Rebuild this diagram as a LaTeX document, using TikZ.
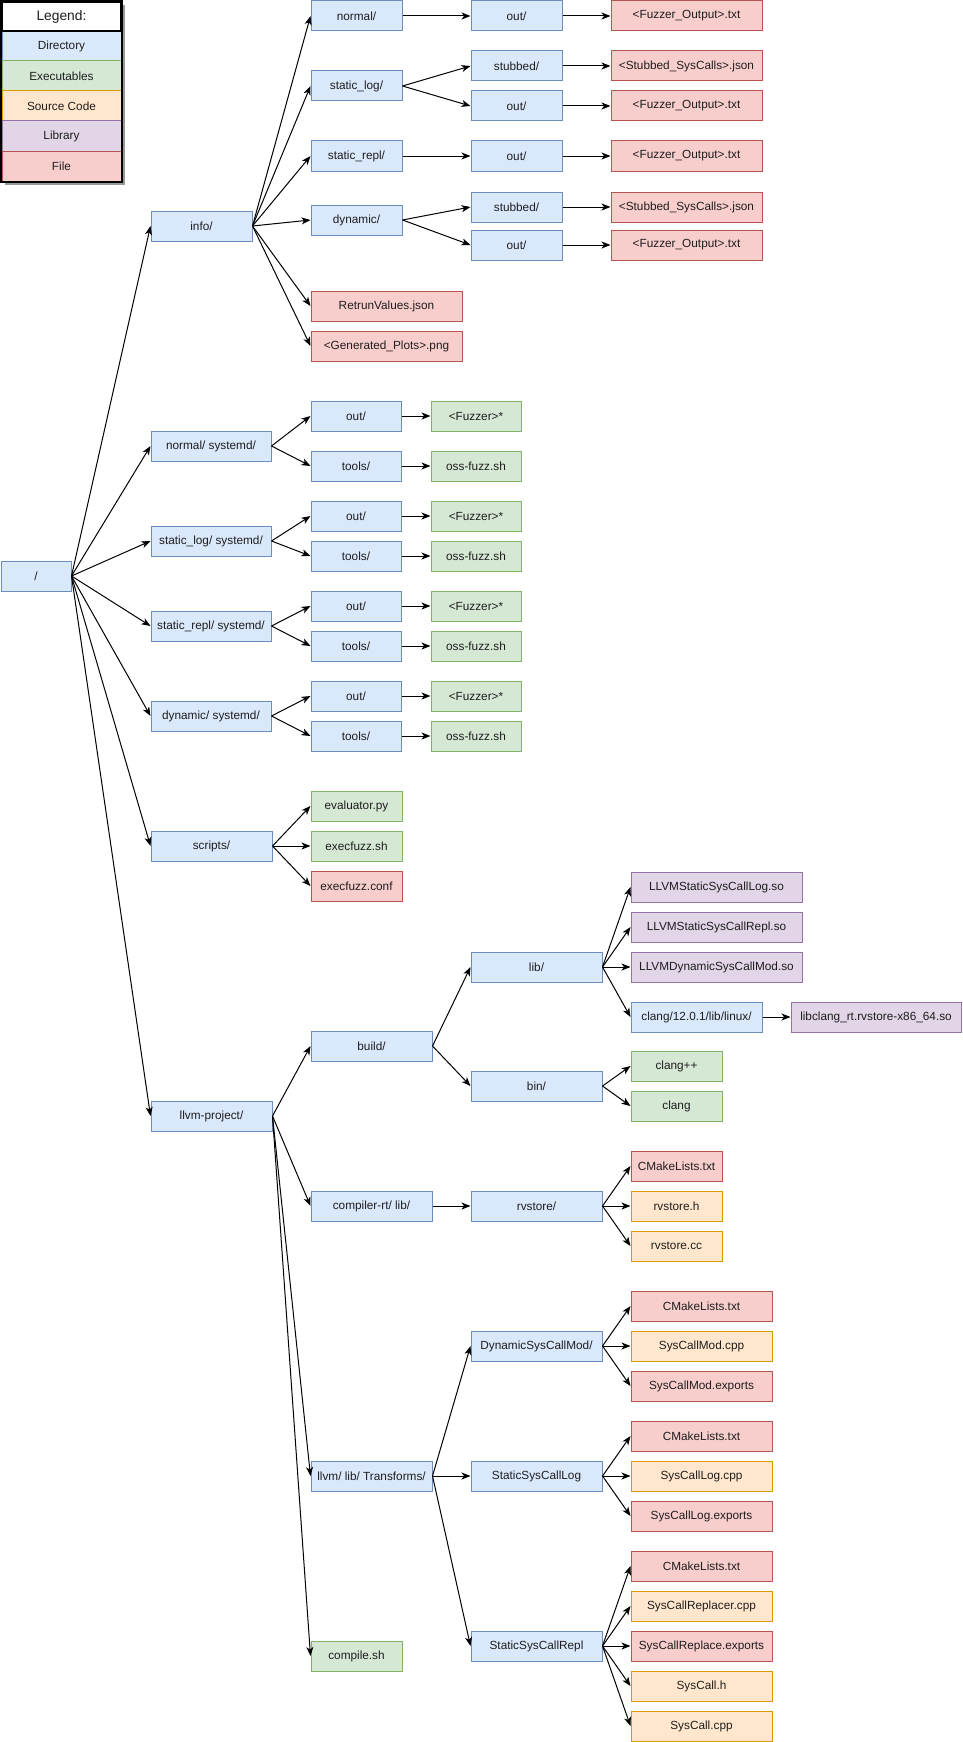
\documentclass[tikz,border=0pt]{standalone}
\usepackage{fontspec}
\setmainfont{Liberation Sans}
\usetikzlibrary{arrows.meta}
\definecolor{dirF}{HTML}{DAE8FC}\definecolor{dirD}{HTML}{6C8EBF}
\definecolor{exeF}{HTML}{D5E8D4}\definecolor{exeD}{HTML}{82B366}
\definecolor{srcF}{HTML}{FFE6CC}\definecolor{srcD}{HTML}{D79B00}
\definecolor{libF}{HTML}{E1D5E7}\definecolor{libD}{HTML}{9673A6}
\definecolor{filF}{HTML}{F8CECC}\definecolor{filD}{HTML}{B85450}
\definecolor{txt}{HTML}{1E1E1E}
\newcommand\mybox[7]{\node[#2, minimum width={(#5-#3)*1pt}, minimum height={(#6-#4)*1pt}] (#1) at ({(#3+#5)/2},{(#4+#6)/2}) {#7};}
\tikzset{
  base/.style={draw, line width=1pt, inner sep=0pt, text=txt, font=\fontsize{11.8}{14}\selectfont},
  dirbox/.style={base, fill=dirF, draw=dirD},
  exebox/.style={base, fill=exeF, draw=exeD},
  srcbox/.style={base, fill=srcF, draw=srcD},
  libbox/.style={base, fill=libF, draw=libD},
  filbox/.style={base, fill=filF, draw=filD},
  titlebox/.style={base, fill=white, draw=black, line width=2pt, font=\fontsize{13.8}{16}\selectfont},
  arr/.style={-{Stealth[length=9pt,width=7pt,inset=2.5pt]}, line width=1pt, draw=black},
}
\begin{document}
\begin{tikzpicture}[x=1pt,y=-1pt]
\useasboundingbox (0,0) rectangle (962,1742);
% legend
\fill[black!40] (5,5) rectangle (124.5,184.5);
\mybox{lgd}{dirbox}{2}{31}{121}{61}{Directory}
\mybox{lge}{exebox}{2}{61}{121}{91}{Executables}
\mybox{lgs}{srcbox}{2}{91}{121}{121}{Source Code}
\mybox{lgl}{libbox}{2}{121}{121}{151}{Library}
\mybox{lgf}{filbox}{2}{151}{121}{181}{File}
\mybox{lg}{titlebox}{2}{2}{121}{31}{Legend:}
\draw[line width=2pt] (lg.north west) rectangle (lgf.south east);
% root
\mybox{root}{dirbox}{1}{561}{71}{591}{/}
% info
\mybox{info}{dirbox}{151}{211}{252}{241}{info/}
\mybox{inorm}{dirbox}{311}{1}{402}{31}{normal/}
\mybox{inlog}{dirbox}{311}{71}{402}{101}{static\_log/}
\mybox{inrepl}{dirbox}{311}{141}{402}{171}{static\_repl/}
\mybox{indyn}{dirbox}{311}{205}{402}{235}{dynamic/}
\mybox{iret}{filbox}{311}{291}{462}{321}{RetrunValues.json}
\mybox{iplot}{filbox}{311}{331}{462}{361}{<Generated\_Plots>.png}
\mybox{inormout}{dirbox}{471}{1}{562}{31}{out/}
\mybox{inormoutf}{filbox}{611}{1}{762}{31}{<Fuzzer\_Output>.txt}
\mybox{inlogstub}{dirbox}{471}{51}{562}{81}{stubbed/}
\mybox{inlogstubf}{filbox}{611}{51}{762}{81}{<Stubbed\_SysCalls>.json}
\mybox{inlogout}{dirbox}{471}{91}{562}{121}{out/}
\mybox{inlogoutf}{filbox}{611}{91}{762}{121}{<Fuzzer\_Output>.txt}
\mybox{inreplout}{dirbox}{471}{141}{562}{171}{out/}
\mybox{inreploutf}{filbox}{611}{141}{762}{171}{<Fuzzer\_Output>.txt}
\mybox{indynstub}{dirbox}{471}{192}{562}{222}{stubbed/}
\mybox{indynstubf}{filbox}{611}{192}{762}{222}{<Stubbed\_SysCalls>.json}
\mybox{indynout}{dirbox}{471}{230}{562}{260}{out/}
\mybox{indynoutf}{filbox}{611}{230}{762}{260}{<Fuzzer\_Output>.txt}
% systemd groups
\mybox{sda}{dirbox}{151}{431}{271}{461}{normal/ systemd/}
\mybox{sdao}{dirbox}{311}{401}{401}{431}{out/}
\mybox{sdat}{dirbox}{311}{451}{401}{481}{tools/}
\mybox{sdaof}{exebox}{431}{401}{521}{431}{<Fuzzer>*}
\mybox{sdatf}{exebox}{431}{451}{521}{481}{oss-fuzz.sh}
\mybox{sdb}{dirbox}{151}{526}{271}{556}{static\_log/ systemd/}
\mybox{sdbo}{dirbox}{311}{501}{401}{531}{out/}
\mybox{sdbt}{dirbox}{311}{541}{401}{571}{tools/}
\mybox{sdbof}{exebox}{431}{501}{521}{531}{<Fuzzer>*}
\mybox{sdbtf}{exebox}{431}{541}{521}{571}{oss-fuzz.sh}
\mybox{sdc}{dirbox}{151}{611}{271}{641}{static\_repl/ systemd/}
\mybox{sdco}{dirbox}{311}{591}{401}{621}{out/}
\mybox{sdct}{dirbox}{311}{631}{401}{661}{tools/}
\mybox{sdcof}{exebox}{431}{591}{521}{621}{<Fuzzer>*}
\mybox{sdctf}{exebox}{431}{631}{521}{661}{oss-fuzz.sh}
\mybox{sdd}{dirbox}{151}{701}{271}{731}{dynamic/ systemd/}
\mybox{sddo}{dirbox}{311}{681}{401}{711}{out/}
\mybox{sddt}{dirbox}{311}{721}{401}{751}{tools/}
\mybox{sddof}{exebox}{431}{681}{521}{711}{<Fuzzer>*}
\mybox{sddtf}{exebox}{431}{721}{521}{751}{oss-fuzz.sh}
% scripts
\mybox{scripts}{dirbox}{151}{831}{272}{861}{scripts/}
\mybox{evalpy}{exebox}{311}{791}{402}{821}{evaluator.py}
\mybox{efsh}{exebox}{311}{831}{402}{861}{execfuzz.sh}
\mybox{efconf}{filbox}{311}{871}{402}{901}{execfuzz.conf}
% llvm
\mybox{llvm}{dirbox}{151}{1101}{272}{1131}{llvm-project/}
\mybox{build}{dirbox}{311}{1031}{432}{1061}{build/}
\mybox{crt}{dirbox}{311}{1191}{432}{1221}{compiler-rt/ lib/}
\mybox{trans}{dirbox}{311}{1461}{432}{1491}{llvm/ lib/ Transforms/}
\mybox{compsh}{exebox}{311}{1641}{402}{1671}{compile.sh}
\mybox{blib}{dirbox}{471}{952}{602}{982}{lib/}
\mybox{bbin}{dirbox}{471}{1071}{602}{1101}{bin/}
\mybox{soa}{libbox}{631}{872}{802}{902}{LLVMStaticSysCallLog.so}
\mybox{sob}{libbox}{631}{912}{802}{942}{LLVMStaticSysCallRepl.so}
\mybox{soc}{libbox}{631}{952}{802}{982}{LLVMDynamicSysCallMod.so}
\mybox{clangdir}{dirbox}{631}{1002}{762}{1032}{clang/12.0.1/lib/linux/}
\mybox{librt}{libbox}{791}{1002}{961}{1032}{libclang\_rt.rvstore-x86\_64.so}
\mybox{clangpp}{exebox}{631}{1051}{722}{1081}{clang++}
\mybox{clang}{exebox}{631}{1091}{722}{1121}{clang}
\mybox{rvs}{dirbox}{471}{1191}{602}{1221}{rvstore/}
\mybox{rvcm}{filbox}{631}{1151}{722}{1181}{CMakeLists.txt}
\mybox{rvh}{srcbox}{631}{1191}{722}{1221}{rvstore.h}
\mybox{rvcc}{srcbox}{631}{1231}{722}{1261}{rvstore.cc}
\mybox{dsm}{dirbox}{471}{1331}{602}{1361}{DynamicSysCallMod/}
\mybox{dsma}{filbox}{631}{1291}{772}{1321}{CMakeLists.txt}
\mybox{dsmb}{srcbox}{631}{1331}{772}{1361}{SysCallMod.cpp}
\mybox{dsmc}{filbox}{631}{1371}{772}{1401}{SysCallMod.exports}
\mybox{ssl}{dirbox}{471}{1461}{602}{1491}{StaticSysCallLog}
\mybox{ssla}{filbox}{631}{1421}{772}{1451}{CMakeLists.txt}
\mybox{sslb}{srcbox}{631}{1461}{772}{1491}{SysCallLog.cpp}
\mybox{sslc}{filbox}{631}{1501}{772}{1531}{SysCallLog.exports}
\mybox{ssr}{dirbox}{471}{1631}{602}{1661}{StaticSysCallRepl}
\mybox{ssra}{filbox}{631}{1551}{772}{1581}{CMakeLists.txt}
\mybox{ssrb}{srcbox}{631}{1591}{772}{1621}{SysCallReplacer.cpp}
\mybox{ssrc}{filbox}{631}{1631}{772}{1661}{SysCallReplace.exports}
\mybox{ssrd}{srcbox}{631}{1671}{772}{1701}{SysCall.h}
\mybox{ssre}{srcbox}{631}{1711}{772}{1741}{SysCall.cpp}
% edges
\foreach \s/\t in {root/info, root/sda, root/sdb, root/sdc, root/sdd, root/scripts, root/llvm,
  info/inorm, info/inlog, info/inrepl, info/indyn, info/iret, info/iplot,
  inorm/inormout, inormout/inormoutf,
  inlog/inlogstub, inlogstub/inlogstubf, inlog/inlogout, inlogout/inlogoutf,
  inrepl/inreplout, inreplout/inreploutf,
  indyn/indynstub, indynstub/indynstubf, indyn/indynout, indynout/indynoutf,
  sda/sdao, sda/sdat, sdao/sdaof, sdat/sdatf,
  sdb/sdbo, sdb/sdbt, sdbo/sdbof, sdbt/sdbtf,
  sdc/sdco, sdc/sdct, sdco/sdcof, sdct/sdctf,
  sdd/sddo, sdd/sddt, sddo/sddof, sddt/sddtf,
  scripts/evalpy, scripts/efsh, scripts/efconf,
  llvm/build, llvm/crt, llvm/trans, llvm/compsh,
  build/blib, build/bbin,
  blib/soa, blib/sob, blib/soc, blib/clangdir, clangdir/librt,
  bbin/clangpp, bbin/clang,
  crt/rvs, rvs/rvcm, rvs/rvh, rvs/rvcc,
  trans/dsm, trans/ssl, trans/ssr,
  dsm/dsma, dsm/dsmb, dsm/dsmc,
  ssl/ssla, ssl/sslb, ssl/sslc,
  ssr/ssra, ssr/ssrb, ssr/ssrc, ssr/ssrd, ssr/ssre}
  \draw[arr] (\s.east) -- (\t.west);
\end{tikzpicture}
\end{document}
